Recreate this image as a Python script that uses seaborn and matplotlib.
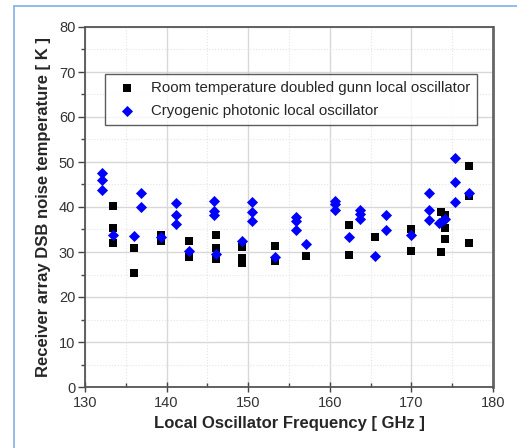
import matplotlib
matplotlib.use("Agg")
import matplotlib.pyplot as plt
import seaborn as sns
import pandas as pd
from matplotlib.lines import Line2D
from matplotlib.ticker import MultipleLocator

# Room temperature doubled gunn LO (black squares)
room_freq = [133.4, 133.4, 133.4, 136.0, 136.0, 139.3, 139.3, 142.8, 142.8,
             146.0, 146.0, 146.0, 149.2, 149.2, 149.2, 153.3, 153.3, 157.1,
             162.4, 162.4, 165.6, 170.0, 170.0, 173.6, 173.6, 174.1, 174.1, 174.1,
             177.1, 177.1, 177.1]
room_temp = [40.3, 35.4, 31.9, 30.8, 25.3, 33.8, 32.4, 32.5, 28.8,
             33.7, 30.8, 28.5, 31.0, 28.7, 27.6, 31.3, 27.9, 29.1,
             36.0, 29.4, 33.3, 35.0, 30.2, 38.8, 30.1, 38.3, 35.4, 32.8,
             49.2, 42.5, 31.9]

# Cryogenic photonic LO (blue diamonds)
cryo_freq = [132.1, 132.1, 132.1, 133.4, 136.0, 136.9, 136.9, 139.3,
             141.2, 141.2, 141.2, 142.8, 145.8, 145.8, 145.8, 146.0, 149.2,
             150.5, 150.5, 150.5, 153.3, 155.9, 155.9, 155.9, 157.1,
             160.6, 160.6, 160.6, 162.4, 163.7, 163.7, 163.7, 165.6,
             166.9, 166.9, 170.0, 172.2, 172.2, 172.2, 173.4, 173.8, 174.1,
             175.3, 175.3, 175.3, 177.1]
cryo_temp = [47.6, 46.1, 43.8, 33.7, 33.5, 43.1, 39.9, 33.3,
             40.9, 38.3, 36.3, 30.2, 41.4, 39.1, 38.3, 29.6, 32.5,
             41.1, 38.8, 36.8, 28.8, 37.7, 36.8, 34.8, 31.8,
             41.4, 40.6, 39.4, 33.3, 39.4, 38.5, 37.4, 29.2,
             38.2, 34.8, 33.7, 43.1, 39.4, 37.0, 36.5, 36.9, 37.4,
             50.8, 45.6, 41.1, 43.1]

label_room = "Room temperature doubled gunn local oscillator"
label_cryo = "Cryogenic photonic local oscillator"

sns.set_theme(style="white")
plt.rcParams['font.family'] = ['Liberation Sans', 'DejaVu Sans']

fig = plt.figure(figsize=(5.17, 4.48), dpi=100)
ax = fig.add_axes([85/517, 1-387/448, 408/517, 360/448])

df_room = pd.DataFrame({"f": room_freq, "t": room_temp})
df_cryo = pd.DataFrame({"f": cryo_freq, "t": cryo_temp})

sns.scatterplot(data=df_room, x="f", y="t", marker="s", color="black", s=30,
                edgecolor="black", linewidth=0, ax=ax, label=label_room, zorder=3)
sns.scatterplot(data=df_cryo, x="f", y="t", marker="D", color="#0000ff", s=32,
                edgecolor="#0000ff", linewidth=0, ax=ax, label=label_cryo, zorder=4)

ax.set_xlim(130, 180)
ax.set_ylim(0, 80)
ax.xaxis.set_major_locator(MultipleLocator(10))
ax.xaxis.set_minor_locator(MultipleLocator(5))
ax.yaxis.set_major_locator(MultipleLocator(10))
ax.yaxis.set_minor_locator(MultipleLocator(5))
ax.grid(which="major", color="#d8d8d8", linewidth=1.0, linestyle="-")
ax.grid(which="minor", color="#e4e4e4", linewidth=0.8, linestyle=":")
ax.set_axisbelow(True)

ax.tick_params(axis="y", which="major", direction="out", length=5, width=1, color="#444444",
               labelsize=10.5, labelcolor="#333333", left=True, pad=2)
ax.tick_params(axis="y", which="minor", direction="out", length=3, width=1, color="#444444", left=True)
ax.tick_params(axis="x", which="major", direction="inout", length=7, width=1, color="#444444",
               labelsize=10.5, labelcolor="#333333", bottom=True, pad=3)
ax.tick_params(axis="x", which="minor", direction="in", length=3, width=1, color="#444444", bottom=True)

for side in ["left", "bottom", "top", "right"]:
    ax.spines[side].set_color("#555555")
    ax.spines[side].set_linewidth(1.3)
ax.spines["right"].set_linewidth(2.0)
ax.spines["right"].set_color("#666666")

ax.set_xlabel("Local Oscillator Frequency [ GHz ]", fontsize=12, fontweight="bold", labelpad=4)
ax.set_ylabel("Receiver array DSB noise temperature [ K ]", fontsize=12, fontweight="bold", labelpad=6)

leg = ax.legend(loc="upper left", bbox_to_anchor=(0.049, 0.869), borderaxespad=0,
                frameon=True, fancybox=False,
                fontsize=10.8, handletextpad=0.6, borderpad=0.45, labelspacing=0.6,
                markerscale=1.0, handlelength=2.0)
leg.get_frame().set_edgecolor("#333333")
leg.get_frame().set_linewidth(1.0)

# light blue frame around the picture
fig.add_artist(Line2D([14/517, 14/517], [0, 1-6/448], transform=fig.transFigure,
                      color="#7fb2e5", linewidth=1.2))
fig.add_artist(Line2D([14/517, 1], [1-6/448, 1-6/448], transform=fig.transFigure,
                      color="#7fb2e5", linewidth=1.2))

fig.savefig("out.png", dpi=100)
